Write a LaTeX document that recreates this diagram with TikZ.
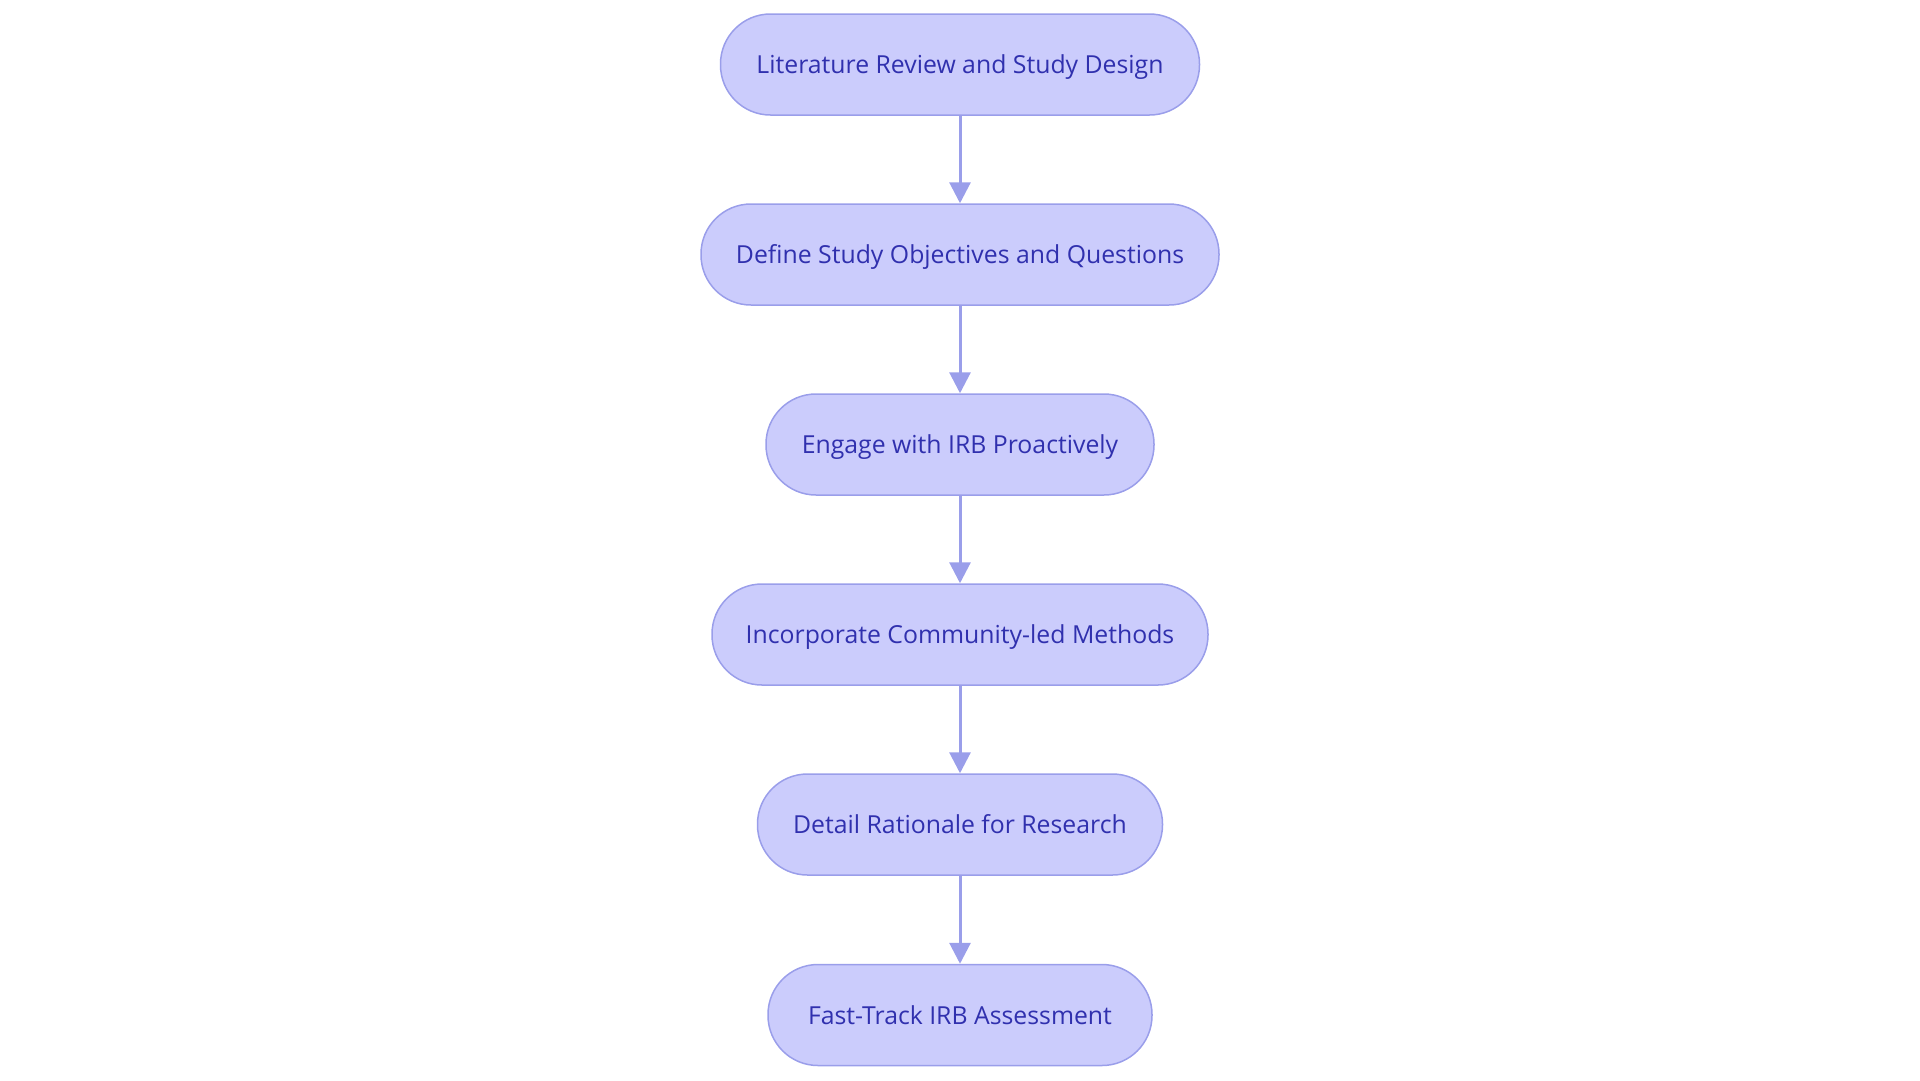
\documentclass[tikz,border=0pt]{standalone}
\usepackage{fontspec}
\setmainfont{Open Sans}
\usetikzlibrary{arrows.meta}
\definecolor{boxfill}{HTML}{CBCCFC}
\definecolor{boxline}{HTML}{9A9EEA}
\definecolor{boxtext}{HTML}{3030AE}
\definecolor{edgecol}{HTML}{9A9EEA}
\tikzset{
  stepbox/.style={draw=boxline, fill=boxfill, line width=1.5pt, rounded corners=50pt,
    minimum height=101pt, inner sep=0pt, text=boxtext, text height=18pt, text depth=0pt,
    font=\fontsize{24.8pt}{28pt}\selectfont},
  flow/.style={draw=edgecol, line width=3pt, -{Triangle[length=21pt,width=21pt]}}
}
\begin{document}
\begin{tikzpicture}[x=1pt,y=-1pt]
\useasboundingbox (0,0) rectangle (1920,1080);
\node[stepbox, minimum width=479pt] (a) at (960,64.5) {Literature Review and Study Design};
\node[stepbox, minimum width=518pt] (b) at (960,254.5) {Define Study Objectives and Questions};
\node[stepbox, minimum width=388pt] (c) at (960,444.5) {Engage with IRB Proactively};
\node[stepbox, minimum width=496pt] (d) at (960,634.5) {Incorporate Community-led Methods};
\node[stepbox, minimum width=405pt] (e) at (960,824.5) {Detail Rationale for Research};
\node[stepbox, minimum width=384pt] (f) at (960,1015) {Fast-Track IRB Assessment};
\draw[flow] (a) -- (b);
\draw[flow] (b) -- (c);
\draw[flow] (c) -- (d);
\draw[flow] (d) -- (e);
\draw[flow] (e) -- (f);
\end{tikzpicture}
\end{document}
